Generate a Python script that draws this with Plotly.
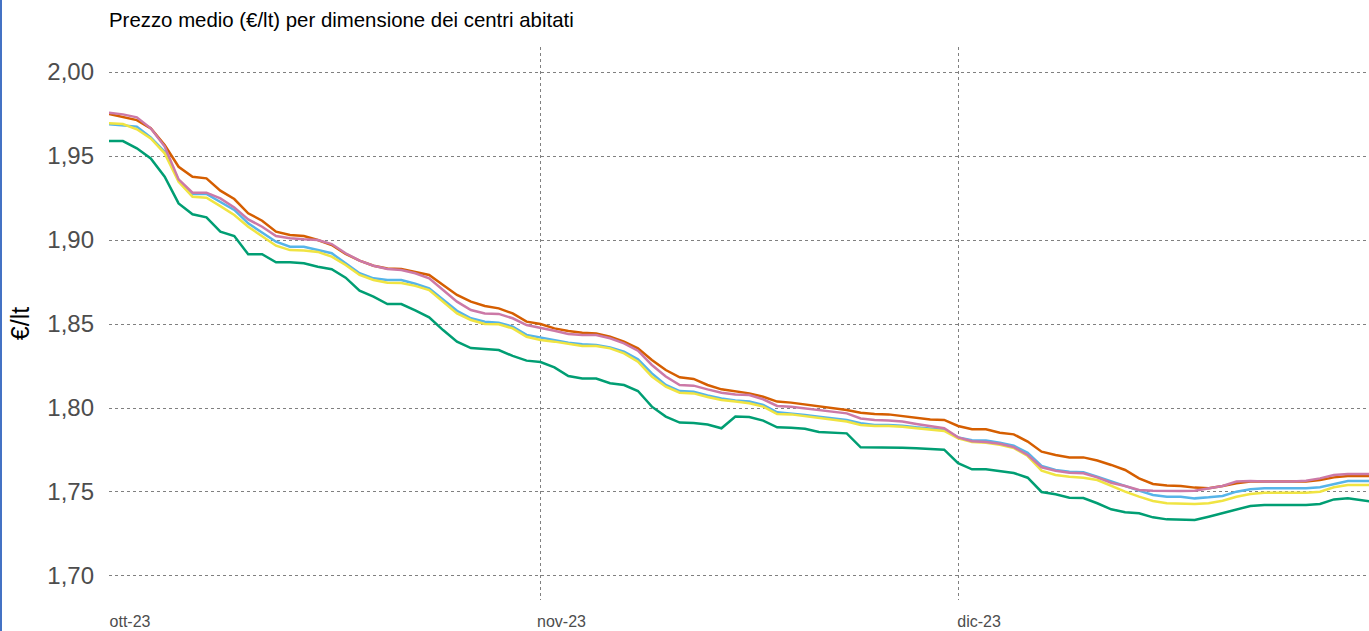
import pandas as pd
import plotly.graph_objects as go

dates = pd.date_range("2023-10-01", periods=92, freq="D")

green = [1.9589,1.9589,1.9546,1.9486,1.9377,1.9218,1.9153,1.9135,1.9050,1.9024,
         1.8915,1.8915,1.8867,1.8867,1.8861,1.8841,1.8826,1.8776,1.8699,1.8663,
         1.8619,1.8619,1.8581,1.8540,1.8464,1.8395,1.8357,1.8349,1.8345,1.8310,
         1.8282,1.8274,1.8242,1.8190,1.8175,1.8175,1.8147,1.8137,1.8101,1.8008,
         1.7949,1.7913,1.7911,1.7902,1.7879,1.7949,1.7946,1.7925,1.7885,1.7883,
         1.7877,1.7857,1.7855,1.7849,1.7766,1.7766,1.7766,1.7764,1.7760,1.7754,
         1.7752,1.7671,1.7635,1.7635,1.7626,1.7613,1.7585,1.7500,1.7486,1.7466,
         1.7464,1.7433,1.7397,1.7379,1.7373,1.7349,1.7337,1.7333,1.7333,1.7353,
         1.7373,1.7397,1.7417,1.7423,1.7423,1.7423,1.7423,1.7429,1.7456,1.7462,
         1.7452,1.7440]

orange = [1.9750,1.9734,1.9714,1.9665,1.9565,1.9436,1.9377,1.9367,1.9294,1.9244,
          1.9159,1.9115,1.9050,1.9030,1.9024,1.9000,1.8970,1.8917,1.8877,1.8847,
          1.8831,1.8827,1.8808,1.8792,1.8732,1.8673,1.8633,1.8607,1.8593,1.8563,
          1.8514,1.8500,1.8474,1.8458,1.8448,1.8444,1.8424,1.8395,1.8355,1.8286,
          1.8226,1.8183,1.8173,1.8137,1.8111,1.8097,1.8087,1.8067,1.8038,1.8032,
          1.8022,1.8008,1.7998,1.7988,1.7972,1.7964,1.7962,1.7952,1.7938,1.7932,
          1.7929,1.7893,1.7873,1.7873,1.7853,1.7843,1.7800,1.7740,1.7720,1.7706,
          1.7706,1.7687,1.7661,1.7631,1.7581,1.7548,1.7538,1.7536,1.7526,1.7522,
          1.7536,1.7552,1.7562,1.7562,1.7562,1.7562,1.7562,1.7571,1.7587,1.7595,
          1.7595,1.7595]

pink = [1.9758,1.9748,1.9730,1.9665,1.9556,1.9361,1.9282,1.9282,1.9248,1.9194,
        1.9123,1.9079,1.9024,1.9010,1.9004,1.9000,1.8976,1.8921,1.8877,1.8847,
        1.8827,1.8821,1.8802,1.8772,1.8702,1.8633,1.8583,1.8563,1.8560,1.8534,
        1.8494,1.8478,1.8460,1.8440,1.8435,1.8435,1.8415,1.8385,1.8341,1.8256,
        1.8187,1.8137,1.8133,1.8111,1.8091,1.8081,1.8077,1.8052,1.8012,1.8008,
        1.7998,1.7988,1.7982,1.7968,1.7938,1.7929,1.7925,1.7919,1.7905,1.7893,
        1.7880,1.7825,1.7802,1.7798,1.7787,1.7767,1.7720,1.7647,1.7627,1.7615,
        1.7611,1.7587,1.7555,1.7536,1.7512,1.7508,1.7506,1.7506,1.7508,1.7522,
        1.7536,1.7562,1.7565,1.7562,1.7562,1.7562,1.7567,1.7581,1.7601,1.7607,
        1.7607,1.7607]

blue = [1.9689,1.9683,1.9675,1.9611,1.9526,1.9357,1.9274,1.9274,1.9228,1.9179,
        1.9099,1.9046,1.8990,1.8960,1.8960,1.8940,1.8921,1.8861,1.8802,1.8772,
        1.8762,1.8762,1.8740,1.8712,1.8647,1.8579,1.8534,1.8514,1.8508,1.8484,
        1.8435,1.8419,1.8405,1.8389,1.8379,1.8375,1.8361,1.8335,1.8290,1.8206,
        1.8137,1.8101,1.8097,1.8074,1.8057,1.8044,1.8038,1.8018,1.7974,1.7968,
        1.7958,1.7948,1.7938,1.7929,1.7909,1.7899,1.7899,1.7895,1.7885,1.7879,
        1.7869,1.7825,1.7808,1.7806,1.7793,1.7775,1.7734,1.7655,1.7631,1.7621,
        1.7617,1.7591,1.7562,1.7536,1.7508,1.7482,1.7472,1.7472,1.7462,1.7468,
        1.7476,1.7502,1.7516,1.7522,1.7522,1.7522,1.7522,1.7528,1.7548,1.7565,
        1.7565,1.7565]

yellow = [1.9695,1.9690,1.9659,1.9605,1.9516,1.9347,1.9258,1.9252,1.9202,1.9149,
          1.9079,1.9020,1.8966,1.8940,1.8937,1.8929,1.8901,1.8851,1.8792,1.8762,
          1.8746,1.8744,1.8727,1.8702,1.8633,1.8563,1.8524,1.8500,1.8498,1.8474,
          1.8424,1.8405,1.8395,1.8381,1.8369,1.8369,1.8355,1.8325,1.8276,1.8187,
          1.8127,1.8091,1.8087,1.8065,1.8048,1.8038,1.8028,1.8008,1.7964,1.7962,
          1.7952,1.7938,1.7929,1.7919,1.7899,1.7893,1.7893,1.7889,1.7879,1.7869,
          1.7863,1.7820,1.7798,1.7793,1.7781,1.7762,1.7714,1.7627,1.7601,1.7591,
          1.7585,1.7571,1.7536,1.7502,1.7472,1.7446,1.7433,1.7429,1.7429,1.7433,
          1.7448,1.7472,1.7488,1.7496,1.7496,1.7496,1.7496,1.7502,1.7528,1.7542,
          1.7542,1.7542]

series = [
    ("Centri fino a 5.000 abitanti", green, "#009E73"),
    ("Centri oltre 200.000 abitanti", orange, "#D55E00"),
    ("Centri 20.000-50.000 abitanti", blue, "#56B4E9"),
    ("Centri 5.000-20.000 abitanti", yellow, "#F0E442"),
    ("Centri 50.000-200.000 abitanti", pink, "#CC79A7"),
]

tick_vals = ["2023-10-01", "2023-11-01", "2023-12-01"]
tick_text = ["ott-23", "nov-23", "dic-23"]
y_ticks = [1.70, 1.75, 1.80, 1.85, 1.90, 1.95, 2.00]

fig = go.Figure()
for name, vals, col in series:
    fig.add_trace(go.Scatter(x=dates, y=vals, mode="lines", name=name,
                             line=dict(color=col, width=2.5),
                             hovertemplate="%{y:.3f}<extra>" + name + "</extra>"))

W, H = 1369, 631
ml, mr, mt, mb = 109, 0, 47, 31

fig.update_layout(
    width=W, height=H,
    margin=dict(l=ml, r=mr, t=mt, b=mb, autoexpand=False),
    paper_bgcolor="white", plot_bgcolor="white",
    separators=",.",
    showlegend=False,
    font=dict(family="Liberation Sans, Arial, sans-serif", color="#000000"),
    title=dict(text="Prezzo medio (€/lt) per dimensione dei centri abitati",
               x=ml / W, xanchor="left", xref="container",
               y=1 - 20 / H, yanchor="middle", yref="container",
               font=dict(size=20.4, color="#000000")),
    xaxis=dict(
        type="date",
        range=["2023-10-01 00:00", "2023-12-30 12:30"],
        tickvals=tick_vals, ticktext=tick_text,
        showgrid=True, gridcolor="#808080", griddash="dot", gridwidth=1,
        zeroline=False, showline=False, ticks="",
        tickfont=dict(size=16, color="#4d4d4d"),
        ticklabelshift=21, ticklabelstandoff=10,
        automargin=False,
    ),
    yaxis=dict(
        range=[1.6857, 2.0149],
        tickvals=y_ticks, tickformat=".2f",
        showgrid=True, gridcolor="#808080", griddash="dot", gridwidth=1,
        zeroline=False, showline=False, ticks="",
        tickfont=dict(size=24, color="#4d4d4d"),
        ticklabelstandoff=14,
        title=dict(text="€/lt", font=dict(size=25, color="#000000"), standoff=10),
        automargin=False,
    ),
)

# blue border at the left edge of the page
fig.add_shape(type="line", xref="paper", yref="paper",
              x0=(1 - ml) / (W - ml - mr), x1=(1 - ml) / (W - ml - mr),
              y0=-mb / (H - mt - mb), y1=1 + mt / (H - mt - mb),
              line=dict(color="#4472C4", width=2))

fig.write_html("out.html",
               config={"displayModeBar": False},
               post_script="document.body.style.margin='0';document.body.style.overflow='hidden';")
